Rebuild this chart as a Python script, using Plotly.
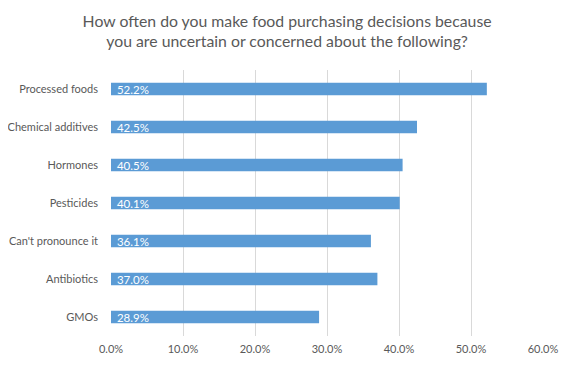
import plotly.graph_objects as go

categories = ["Processed foods", "Chemical additives", "Hormones", "Pesticides",
              "Can't pronounce it", "Antibiotics", "GMOs"]
values = [52.2, 42.5, 40.5, 40.1, 36.1, 37.0, 28.9]
tick_vals = [0, 10, 20, 30, 40, 50, 60]
tick_text = ["0.0%", "10.0%", "20.0%", "30.0%", "40.0%", "50.0%", "60.0%"]

fig = go.Figure(go.Bar(
    y=categories, x=values, orientation="h",
    marker=dict(color="#5B9BD5", line=dict(width=0)),
    width=0.33,
    text=["\u00a0" + f"{v:.1f}%" for v in values],
    textposition="inside", insidetextanchor="start",
    constraintext="none",
    insidetextfont=dict(color="white", size=11.5, family="Lato"),
    cliponaxis=False,
))

# page body has an 8px default margin, so the figure is sized/offset to fit
fig.update_layout(
    width=565, height=360,
    margin=dict(l=103, r=30, t=62, b=32),
    paper_bgcolor="white", plot_bgcolor="white",
    font=dict(family="Lato", color="#595959", size=11),
    title=dict(
        text="How often do you make food purchasing decisions because<br>you are uncertain or concerned about the following?",
        x=0.494, xanchor="center", xref="container",
        y=0.948, yanchor="middle", yref="container",
        font=dict(size=15.8, color="#595959", family="Lato"),
    ),
    showlegend=False,
)
fig.update_xaxes(range=[0, 60], tickvals=tick_vals, ticktext=tick_text,
                 showgrid=True, gridcolor="#d9d9d9", gridwidth=1,
                 zeroline=False, showline=False, ticks="", automargin=False,
                 ticklabelstandoff=5,
                 tickfont=dict(size=11, color="#595959"))
fig.update_yaxes(categoryorder="array", categoryarray=categories, autorange="reversed",
                 showgrid=False, showline=False, ticks="", ticklabelstandoff=12,
                 automargin=False,
                 tickfont=dict(size=11, color="#595959"))

fig.write_html("out.html")
